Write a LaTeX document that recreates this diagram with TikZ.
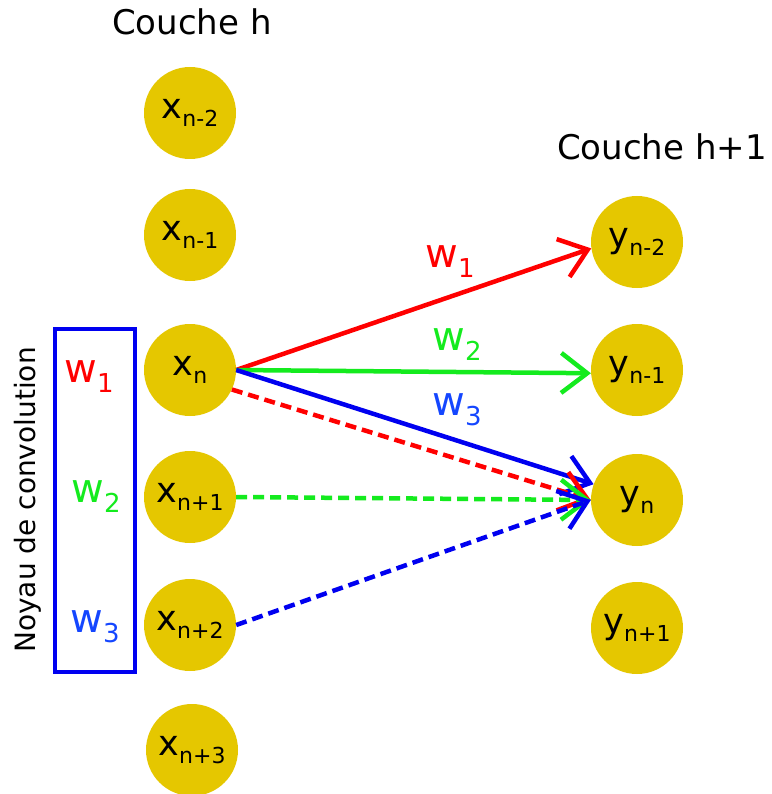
\documentclass[tikz,border=0pt]{standalone}
\usepackage{fontspec}
\setmainfont{DejaVu Sans}
\usetikzlibrary{arrows.meta}
\definecolor{gold}{RGB}{229,199,0}
\definecolor{myred}{RGB}{255,0,0}
\definecolor{mygreen}{RGB}{20,235,30}
\definecolor{myblue}{RGB}{0,0,240}
\definecolor{txtblue}{RGB}{20,70,255}
\newcommand\lbl[2]{#1\raisebox{-8pt}{\fontsize{22}{24}\selectfont #2}}
\newcommand\wlbl[2]{#1\raisebox{-10pt}{\fontsize{26}{28}\selectfont #2}}
\tikzset{
  neuron/.style={circle, fill=gold, minimum size=92pt, inner sep=0pt, font=\fontsize{35}{37}\selectfont},
  title/.style={font=\fontsize{34}{36}\selectfont},
  wtxt/.style={font=\fontsize{40}{42}\selectfont, inner sep=0pt},
  conn/.style={line width=4.5pt, -{Straight Barb[length=26pt,width=40pt,line width=4.5pt]}},
  dconn/.style={conn, dash pattern=on 11pt off 6pt},
}
\begin{document}
\begin{tikzpicture}[x=1pt,y=-1pt]
\path[use as bounding box, fill=white] (0,0) rectangle (771,794);
% titles
\node[title] (th) at (192,22) {Couche h};
\node[title] (th1) at (662,147) {Couche h+1};
% left column
\node[neuron] (xm2) at (190,113) {\lbl{x}{n-2}};
\node[neuron] (xm1) at (190,235) {\lbl{x}{n-1}};
\node[neuron] (xn)  at (190,370) {\lbl{x}{n}};
\node[neuron] (xp1) at (190,497) {\lbl{x}{n+1}};
\node[neuron] (xp2) at (190,625) {\lbl{x}{n+2}};
\node[neuron] (xp3) at (192,750) {\lbl{x}{n+3}};
% right column
\node[neuron] (ym2) at (637,242) {\lbl{y}{n-2}};
\node[neuron] (ym1) at (637,370) {\lbl{y}{n-1}};
\node[neuron] (yn)  at (637,500) {\lbl{y}{n}};
\node[neuron] (yp1) at (637,628) {\lbl{y}{n+1}};
% kernel box
\draw[myblue, line width=3.5pt] (55,329) rectangle (135,672);
\node[wtxt, text=myred] (k1) at (89,377) {\wlbl{w}{1}};
\node[wtxt, text=mygreen] (k2) at (96,497) {\wlbl{w}{2}};
\node[wtxt, text=txtblue] (k3) at (95,627) {\wlbl{w}{3}};
\node[rotate=90, font=\fontsize{28}{30}\selectfont] (noyau) at (28,500) {Noyau de convolution};
% connectors
\draw[conn, myred] (xn.east) -- (ym2.188);
\draw[conn, mygreen] (xn.east) -- (ym1.184);
\draw[conn, myblue] (xn.east) -- (yn.160);
\draw[dconn, myred] (xn.-25) -- (yn.west);
\draw[dconn, mygreen] (xp1.east) -- (yn.west);
\draw[dconn, myblue] (xp2.east) -- (yn.west);
% weight labels
\node[wtxt, text=myred] (l1) at (450,262) {\wlbl{w}{1}};
\node[wtxt, text=mygreen] (l2) at (457,345) {\wlbl{w}{2}};
\node[wtxt, text=txtblue] (l3) at (457,410) {\wlbl{w}{3}};
\end{tikzpicture}
\end{document}
